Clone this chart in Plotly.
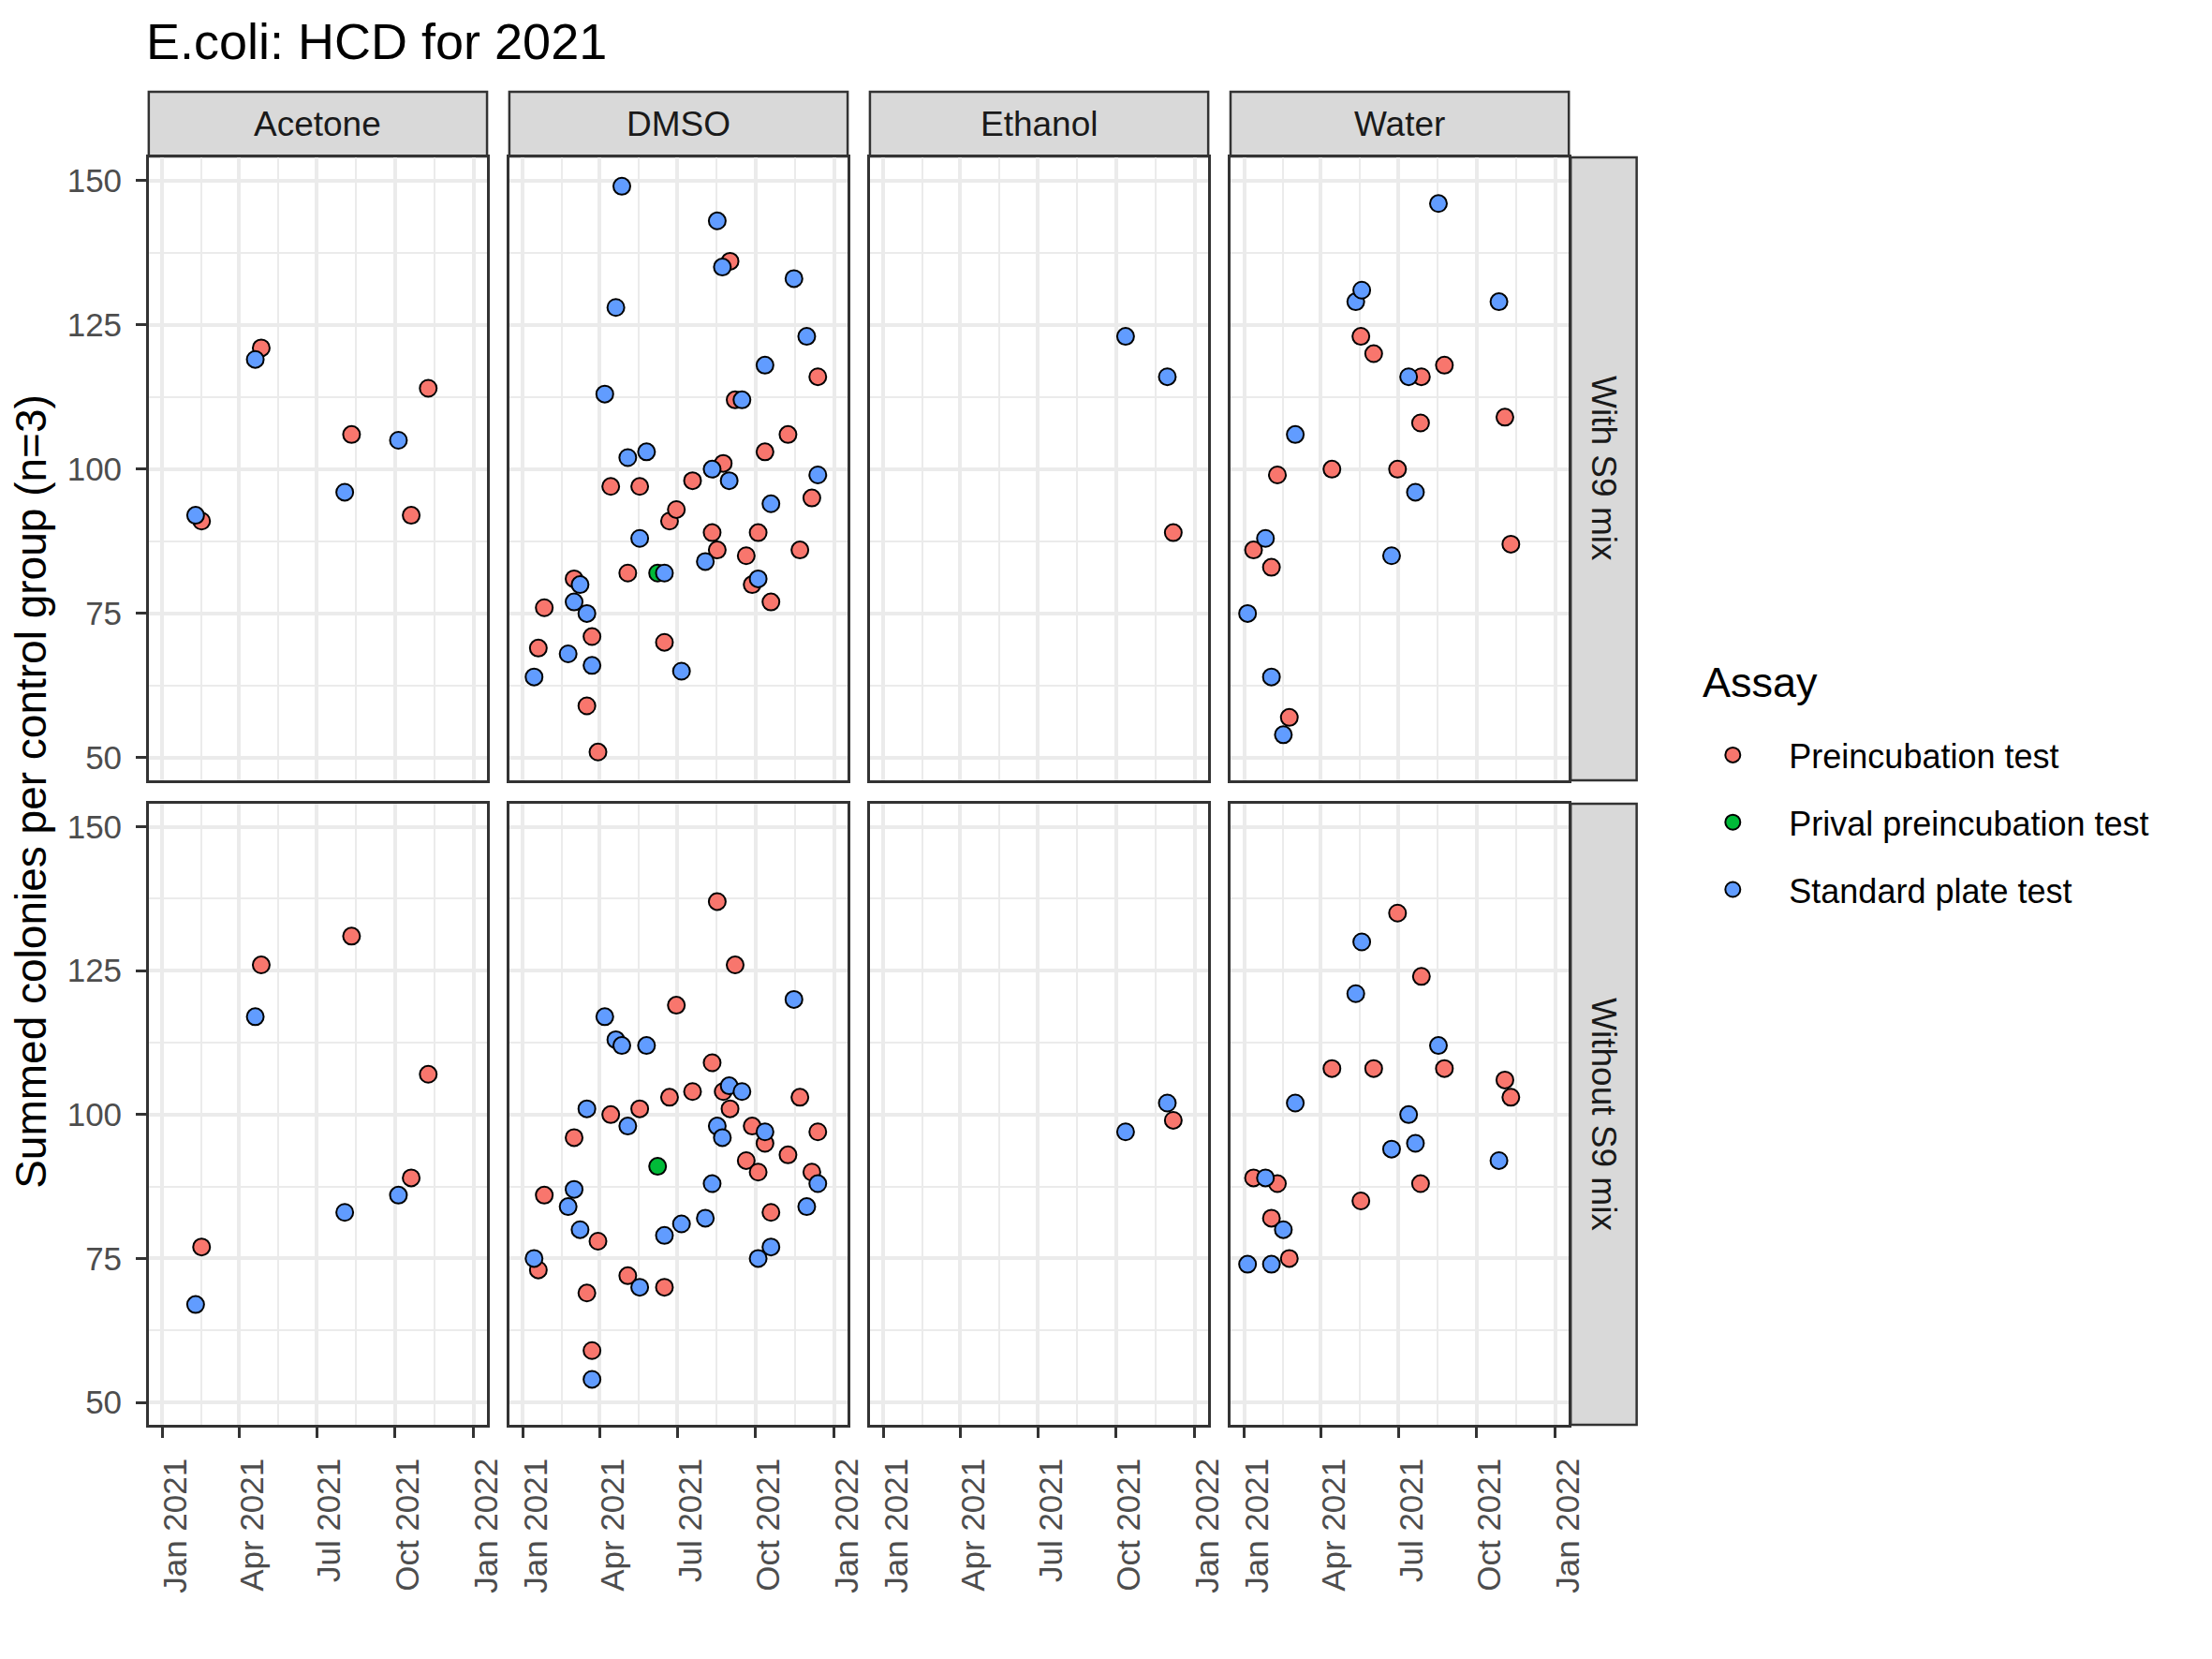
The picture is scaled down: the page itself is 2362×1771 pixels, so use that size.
import plotly.graph_objects as go

# --- data ---
acetone_dates = ["2021-02-09", "2021-02-16", "2021-04-20", "2021-04-27", "2021-08-03",
                 "2021-08-11", "2021-10-05", "2021-10-20", "2021-11-09"]
acetone_assay = ["S", "P", "S", "P", "S", "P", "S", "P", "P"]
acetone_with = [92, 91, 119, 121, 96, 106, 105, 92, 114]
acetone_without = [67, 77, 117, 126, 83, 131, 86, 89, 107]

dmso_dates = ["2021-01-14", "2021-01-19", "2021-01-26", "2021-02-23", "2021-03-02", "2021-03-02",
              "2021-03-09", "2021-03-17", "2021-03-17", "2021-03-23", "2021-03-23", "2021-03-30",
              "2021-04-07", "2021-04-14", "2021-04-20", "2021-04-27", "2021-05-04", "2021-05-04",
              "2021-05-18", "2021-05-18", "2021-05-26", "2021-06-08", "2021-06-16", "2021-06-16",
              "2021-06-22", "2021-06-30", "2021-07-06", "2021-07-19", "2021-08-03", "2021-08-11",
              "2021-08-11", "2021-08-17", "2021-08-17", "2021-08-23", "2021-08-24", "2021-08-31",
              "2021-09-01", "2021-09-07", "2021-09-15", "2021-09-20", "2021-09-27", "2021-10-04",
              "2021-10-04", "2021-10-12", "2021-10-12", "2021-10-19", "2021-10-19", "2021-11-08",
              "2021-11-15", "2021-11-22", "2021-11-30", "2021-12-06", "2021-12-13", "2021-12-13"]
dmso_assay = ["S", "P", "P", "S", "P", "S",
              "S", "S", "P", "P", "S", "P",
              "S", "P", "S", "S", "S", "P",
              "P", "S", "S", "G", "P", "S",
              "P", "P", "S", "P", "S", "S",
              "P", "S", "P", "S", "P", "S",
              "P", "P", "S", "P", "P", "P",
              "S", "S", "P", "S", "P", "P",
              "S", "P", "S", "P", "P", "S"]
dmso_with = [64, 69, 76, 68, 81, 77,
             80, 75, 59, 71, 66, 51,
             113, 97, 128, 149, 102, 82,
             97, 88, 103, 82, 70, 82,
             91, 93, 65, 98, 84, 100,
             89, 143, 86, 135, 101, 98,
             136, 112, 112, 85, 80, 89,
             81, 118, 103, 94, 77, 106,
             133, 86, 123, 95, 116, 99]
dmso_without = [75, 73, 86, 84, 96, 87,
                80, 101, 69, 59, 54, 78,
                117, 100, 113, 112, 98, 72,
                101, 70, 112, 91, 70, 79,
                103, 119, 81, 104, 82, 88,
                109, 98, 137, 96, 104, 105,
                101, 126, 104, 92, 98, 90,
                75, 97, 95, 77, 83, 93,
                120, 103, 84, 90, 97, 88]

ethanol_dates = ["2021-10-12", "2021-11-30", "2021-12-07"]
ethanol_assay = ["S", "S", "P"]
ethanol_with = [123, 116, 89]
ethanol_without = [97, 102, 99]

water_dates = ["2021-01-05", "2021-01-12", "2021-01-26", "2021-02-02", "2021-02-02", "2021-02-09",
               "2021-02-16", "2021-02-23", "2021-03-02", "2021-04-14", "2021-05-12", "2021-05-18",
               "2021-05-19", "2021-06-02", "2021-06-23", "2021-06-30", "2021-07-13", "2021-07-21",
               "2021-07-27", "2021-07-28", "2021-08-17", "2021-08-24", "2021-10-27", "2021-11-03",
               "2021-11-10"]
water_assay = ["S", "P", "S", "P", "S", "P",
               "S", "P", "S", "P", "S", "P",
               "S", "P", "S", "P", "S", "S",
               "P", "P", "S", "P", "S", "P",
               "P"]
water_with = [75, 86, 88, 83, 64, 99,
              54, 57, 106, 100, 129, 123,
              131, 120, 85, 100, 116, 96,
              108, 116, 146, 118, 129, 109,
              87]
water_without = [74, 89, 89, 82, 74, 88,
                 80, 75, 102, 108, 121, 85,
                 130, 108, 94, 135, 100, 95,
                 88, 124, 112, 108, 92, 106,
                 103]

solvents = ["Acetone", "DMSO", "Ethanol", "Water"]
s9_rows = ["With S9 mix", "Without S9 mix"]
assay_names = {"P": "Preincubation test", "G": "Prival preincubation test", "S": "Standard plate test"}
assay_colors = {"P": "#F8766D", "G": "#00BA38", "S": "#619CFF"}

x_ticks = ["2021-01-01", "2021-04-01", "2021-07-01", "2021-10-01", "2022-01-01"]
x_ticktext = ["Jan 2021", "Apr 2021", "Jul 2021", "Oct 2021", "Jan 2022"]
x_minor = ["2021-02-15 12:00", "2021-05-16 12:00", "2021-08-16", "2021-11-16"]
y_ticks = [50, 75, 100, 125, 150]
y_minor = [62.5, 87.5, 112.5, 137.5]

data = {
    "Acetone": (acetone_dates, acetone_assay, acetone_with, acetone_without),
    "DMSO": (dmso_dates, dmso_assay, dmso_with, dmso_without),
    "Ethanol": (ethanol_dates, ethanol_assay, ethanol_with, ethanol_without),
    "Water": (water_dates, water_assay, water_with, water_without),
}

# --- layout geometry (pixels of the 2362x1771 page) ---
W, H = 2362, 1771
OFF = 8  # the page body margin shifts the whole figure by this much
col_x = [(160, 524), (548, 912), (936, 1300), (1324, 1688)]
row_y = [(168, 833), (858, 1521)]
strip_top = (98, 167)
strip_right = (1690, 1761)
FONT = "Liberation Sans, Arial, sans-serif"


def px(x):
    return (x - OFF) / W


def py(y):
    return 1 - (y - OFF) / H


fig = go.Figure()

# traces: assay outer loop so the legend order is Preincubation, Prival, Standard
shown = set()
for code in ["P", "G", "S"]:
    for r in range(2):
        for c, solvent in enumerate(solvents):
            dates, assay, wv, wov = data[solvent]
            vals = wv if r == 0 else wov
            xs = [d for d, a in zip(dates, assay) if a == code]
            ys = [v for v, a in zip(vals, assay) if a == code]
            if not xs:
                continue
            k = r * 4 + c + 1
            fig.add_trace(go.Scatter(
                x=xs, y=ys, mode="markers",
                name=assay_names[code], legendgroup=code,
                showlegend=code not in shown,
                marker=dict(color=assay_colors[code], size=18,
                            line=dict(color="black", width=2)),
                xaxis="x" if k == 1 else f"x{k}",
                yaxis="y" if k == 1 else f"y{k}",
            ))
            shown.add(code)

layout = dict(
    width=W, height=H, autosize=False,
    margin=dict(l=0, r=0, t=0, b=0),
    plot_bgcolor="white", paper_bgcolor="white",
    font=dict(family=FONT, color="#1A1A1A"),
    showlegend=True,
    legend=dict(
        x=px(1804), y=py(776), xanchor="left", yanchor="top",
        font=dict(size=36, color="black", family=FONT),
        tracegroupgap=22, itemwidth=110,
        bgcolor="rgba(0,0,0,0)",
    ),
)

for r in range(2):
    for c in range(4):
        k = r * 4 + c + 1
        xname = "xaxis" if k == 1 else f"xaxis{k}"
        yname = "yaxis" if k == 1 else f"yaxis{k}"
        bottom = r == 1
        left = c == 0
        layout[xname] = dict(
            domain=[px(col_x[c][0]), px(col_x[c][1])],
            anchor="y" if k == 1 else f"y{k}",
            type="date", range=["2020-12-16", "2022-01-17"],
            tickmode="array", tickvals=x_ticks, ticktext=x_ticktext,
            showticklabels=bottom, ticks="outside" if bottom else "",
            ticklen=11, tickwidth=3, tickcolor="#333333",
            tickangle=-90, ticklabelstandoff=8, ticklabelshift=14,
            tickfont=dict(size=35, color="#4D4D4D", family=FONT),
            showgrid=True, gridcolor="#EBEBEB", gridwidth=3.5,
            minor=dict(tickmode="array", tickvals=x_minor, showgrid=True,
                       gridcolor="#EBEBEB", gridwidth=2, ticks=""),
            showline=True, mirror=True, linecolor="#333333", linewidth=2.5,
            zeroline=False,
        )
        layout[yname] = dict(
            domain=[py(row_y[r][1]), py(row_y[r][0])],
            anchor="x" if k == 1 else f"x{k}",
            range=[46.1, 154.0],
            tickmode="array", tickvals=y_ticks,
            showticklabels=left, ticks="outside" if left else "",
            ticklen=11, tickwidth=3, tickcolor="#333333", ticklabelstandoff=8,
            tickfont=dict(size=35, color="#4D4D4D", family=FONT),
            showgrid=True, gridcolor="#EBEBEB", gridwidth=3.5,
            minor=dict(tickmode="array", tickvals=y_minor, showgrid=True,
                       gridcolor="#EBEBEB", gridwidth=2, ticks=""),
            showline=True, mirror=True, linecolor="#333333", linewidth=2.5,
            zeroline=False,
        )

shapes = []
annotations = []
# column strips
for c, solvent in enumerate(solvents):
    shapes.append(dict(type="rect", xref="paper", yref="paper",
                       x0=px(col_x[c][0]), x1=px(col_x[c][1]),
                       y0=py(strip_top[1]), y1=py(strip_top[0]),
                       fillcolor="#D9D9D9", line=dict(color="#333333", width=2.5), layer="below"))
    annotations.append(dict(xref="paper", yref="paper",
                            x=px((col_x[c][0] + col_x[c][1]) / 2), y=py(sum(strip_top) / 2),
                            text=solvent, showarrow=False, xanchor="center", yanchor="middle",
                            font=dict(size=37, color="#1A1A1A", family=FONT)))
# row strips
for r, lab in enumerate(s9_rows):
    shapes.append(dict(type="rect", xref="paper", yref="paper",
                       x0=px(strip_right[0]), x1=px(strip_right[1]),
                       y0=py(row_y[r][1]), y1=py(row_y[r][0]),
                       fillcolor="#D9D9D9", line=dict(color="#333333", width=2.5), layer="below"))
    annotations.append(dict(xref="paper", yref="paper",
                            x=px(sum(strip_right) / 2), y=py(sum(row_y[r]) / 2),
                            text=lab, showarrow=False, textangle=90,
                            xanchor="center", yanchor="middle",
                            font=dict(size=37, color="#1A1A1A", family=FONT)))

# title, legend title and y axis title
annotations.append(dict(xref="paper", yref="paper", x=px(155), y=py(44),
                        text="E.coli: HCD for 2021", showarrow=False,
                        xanchor="left", yanchor="middle",
                        font=dict(size=54, color="black", family=FONT)))
annotations.append(dict(xref="paper", yref="paper", x=px(1830), y=py(728),
                        text="Assay", showarrow=False,
                        xanchor="left", yanchor="middle",
                        font=dict(size=45, color="black", family=FONT)))
annotations.append(dict(xref="paper", yref="paper", x=px(33), y=py(845),
                        text="Summed colonies per control group (n=3)", showarrow=False,
                        textangle=-90, xanchor="center", yanchor="middle",
                        font=dict(size=46, color="black", family=FONT)))

layout["shapes"] = shapes
layout["annotations"] = annotations
fig.update_layout(**layout)

fig.write_html("out.html")
